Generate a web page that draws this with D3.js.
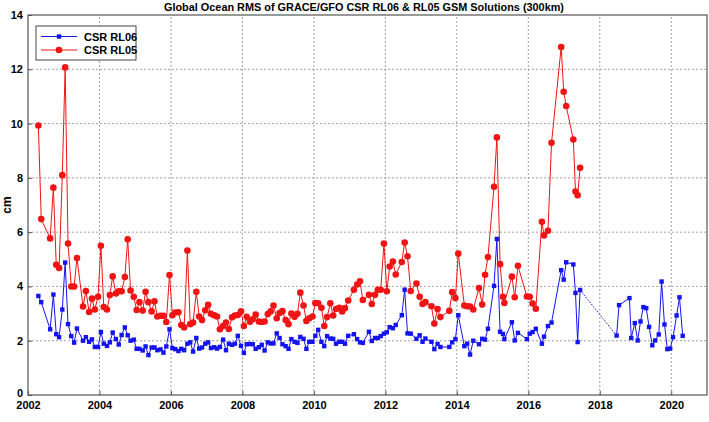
<!DOCTYPE html>
<html lang="en">
<head>
<meta charset="UTF-8">
<title>Global Ocean RMS of GRACE/GFO CSR RL06 & RL05</title>
<script src="https://d3js.org/d3.v7.min.js"></script>
<style>
    body { margin: 0; background: #fff; }
    svg text {
        font-family: "Liberation Sans Narrow", "Arial Narrow", "Liberation Sans", Arial, sans-serif;
        font-weight: bold;
        fill: #000;
    }
    .grid line { stroke: #8a8a8a; stroke-width: 0.8; stroke-dasharray: 2,2; }
</style>
</head>
<body>
<svg id="chart"></svg>
<script>
// GRACE era months (decimal year), shared by both releases
const timeGrace = [
    2002.29, 2002.37, 2002.62, 2002.71, 2002.79, 2002.87, 2002.96,
    2003.04, 2003.12, 2003.21, 2003.29, 2003.37, 2003.54, 2003.62, 2003.71, 2003.79, 2003.87, 2003.96,
    2004.04, 2004.12, 2004.21, 2004.29, 2004.37, 2004.46, 2004.54, 2004.62, 2004.71, 2004.79, 2004.87, 2004.96,
    2005.04, 2005.12, 2005.21, 2005.29, 2005.37, 2005.46, 2005.54, 2005.62, 2005.71, 2005.79, 2005.87, 2005.96,
    2006.04, 2006.12, 2006.21, 2006.29, 2006.37, 2006.46, 2006.54, 2006.62, 2006.71, 2006.79, 2006.87, 2006.96,
    2007.04, 2007.12, 2007.21, 2007.29, 2007.37, 2007.46, 2007.54, 2007.62, 2007.71, 2007.79, 2007.87, 2007.96,
    2008.04, 2008.12, 2008.21, 2008.29, 2008.37, 2008.46, 2008.54, 2008.62, 2008.71, 2008.79, 2008.87, 2008.96,
    2009.04, 2009.12, 2009.21, 2009.29, 2009.37, 2009.46, 2009.54, 2009.62, 2009.71, 2009.79, 2009.87, 2009.96,
    2010.04, 2010.12, 2010.21, 2010.29, 2010.37, 2010.46, 2010.54, 2010.62, 2010.71, 2010.79, 2010.87, 2010.96,
    2011.12, 2011.21, 2011.29, 2011.37, 2011.54, 2011.62, 2011.71, 2011.79, 2011.87, 2011.96,
    2012.04, 2012.12, 2012.21, 2012.29, 2012.46, 2012.54, 2012.62, 2012.71, 2012.87, 2012.96,
    2013.04, 2013.12, 2013.29, 2013.37, 2013.46, 2013.54, 2013.79, 2013.87, 2013.96,
    2014.04, 2014.21, 2014.29, 2014.37, 2014.46, 2014.62, 2014.71, 2014.79, 2014.87,
    2015.04, 2015.12, 2015.21, 2015.29, 2015.33, 2015.54, 2015.62, 2015.71, 2015.96,
    2016.04, 2016.12, 2016.21, 2016.38, 2016.44, 2016.55, 2016.65, 2016.92, 2016.99, 2017.06, 2017.26, 2017.32, 2017.38, 2017.45
];

const rl05Grace = [
    9.93, 6.48, 5.77, 7.64, 4.80, 4.68, 8.10,
    12.07, 5.58, 4.00, 4.00, 5.05, 3.26, 3.83, 3.06, 3.55, 3.15, 3.62,
    5.50, 3.24, 3.15, 3.68, 4.37, 3.74, 3.82, 3.82, 4.35, 5.74, 3.85, 3.62,
    3.13, 3.42, 3.11, 3.80, 3.42, 3.08, 3.45, 2.89, 2.92, 2.92, 2.69, 4.42,
    2.94, 3.04, 3.05, 2.58, 2.49, 5.32, 2.61, 2.67, 3.80, 2.89, 2.76, 3.12,
    3.32, 2.99, 2.94, 2.89, 2.42, 2.54, 2.67, 2.43, 2.86, 2.93, 2.95, 3.08,
    2.54, 2.88, 2.70, 2.79, 2.96, 2.71, 2.69, 2.71, 2.98, 3.08, 3.30, 2.83,
    3.02, 3.09, 2.76, 2.61, 3.00, 2.88, 2.99, 3.77, 3.30, 2.73, 2.83, 2.89,
    3.39, 3.38, 3.21, 2.54, 2.87, 3.38, 2.93, 3.17, 3.21, 3.08, 3.20, 3.48,
    3.88, 4.07, 4.19, 3.50, 3.69, 3.35, 3.69, 3.88, 3.88, 5.58,
    3.82, 4.73, 4.92, 4.44, 4.90, 5.62, 5.11, 3.83, 4.11, 3.62,
    3.35, 3.42, 3.27, 2.63, 3.17, 2.87, 3.10, 3.79, 3.57,
    5.21, 3.30, 3.27, 3.26, 3.15, 3.94, 3.33, 4.43, 5.08,
    7.67, 9.49, 4.82, 3.62, 3.39, 4.36, 3.60, 4.76, 3.63,
    3.62, 3.37, 3.18, 6.38, 5.88, 6.05, 9.29, 12.82, 11.17, 10.65, 9.41, 7.50, 7.36, 8.37
];

const rl06Grace = [
    3.65, 3.42, 2.42, 3.70, 2.24, 2.13, 3.15,
    4.88, 2.61, 2.17, 1.93, 2.45, 2.00, 2.13, 1.96, 2.05, 1.77, 1.77,
    2.32, 1.89, 1.81, 1.94, 2.30, 2.06, 1.86, 2.21, 2.49, 2.20, 2.00, 2.04,
    1.70, 1.70, 1.64, 1.79, 1.47, 1.75, 1.75, 1.65, 1.68, 1.56, 1.79, 2.42,
    1.73, 1.69, 1.62, 1.70, 1.65, 1.89, 1.94, 1.60, 2.10, 1.71, 1.75, 1.89,
    1.94, 1.73, 1.76, 1.71, 1.77, 2.04, 1.65, 1.89, 1.85, 1.89, 2.18, 1.81,
    1.55, 1.87, 1.88, 1.87, 1.70, 1.76, 1.85, 1.64, 1.94, 1.90, 1.90, 2.27,
    2.10, 1.87, 1.80, 1.70, 2.06, 1.96, 1.92, 2.14, 2.07, 1.70, 1.96, 1.96,
    2.18, 2.40, 1.96, 1.80, 2.17, 2.08, 2.07, 1.89, 1.96, 1.96, 1.89, 2.18,
    2.24, 2.06, 1.94, 1.92, 2.33, 1.99, 2.10, 2.10, 2.17, 2.26,
    2.31, 2.50, 2.46, 2.58, 2.94, 3.88, 2.27, 2.26, 2.07, 2.20,
    1.96, 2.08, 1.96, 1.69, 1.88, 1.77, 1.77, 1.94, 2.06,
    2.94, 1.80, 1.89, 1.49, 2.00, 1.87, 2.07, 2.04, 2.44,
    4.02, 5.75, 2.33, 2.25, 2.06, 2.68, 2.01, 2.29, 2.06,
    2.26, 2.32, 2.44, 1.89, 2.15, 2.54, 2.67, 4.60, 4.25, 4.89, 4.81, 3.76, 1.95, 3.87
];

// GRACE-FO era, RL06 only
const timeGfo = [
    2018.47, 2018.54, 2018.83, 2018.88, 2018.98, 2019.06, 2019.14, 2019.22, 2019.30, 2019.38, 2019.47,
    2019.55, 2019.65, 2019.73, 2019.81, 2019.89, 2019.97, 2020.05, 2020.15, 2020.23, 2020.32
];
const rl06Gfo = [
    2.19, 3.31, 3.57, 2.10, 2.65, 2.01, 2.71, 3.24, 3.20, 2.51, 1.83,
    2.01, 2.23, 4.18, 2.60, 1.69, 1.71, 2.13, 2.93, 3.60, 2.18
];

const xTicks = [2002, 2004, 2006, 2008, 2010, 2012, 2014, 2016, 2018, 2020];
const yTicks = [0, 2, 4, 6, 8, 10, 12, 14];

const width = 709, height = 422;
const margin = { top: 15, right: 2, bottom: 27, left: 28 };

const svg = d3.select('#chart')
    .attr('width', width)
    .attr('height', height);

const x = d3.scaleLinear().domain([2002, 2021]).range([margin.left, width - margin.right]);
const y = d3.scaleLinear().domain([0, 14]).range([height - margin.bottom, margin.top]);

// grid
const grid = svg.append('g').attr('class', 'grid');
grid.selectAll('.vg').data(xTicks.slice(1)).enter().append('line')
    .attr('x1', d => x(d)).attr('x2', d => x(d))
    .attr('y1', y(0)).attr('y2', y(14));
grid.selectAll('.hg').data(yTicks.slice(1, -1)).enter().append('line')
    .attr('x1', x(2002)).attr('x2', x(2021))
    .attr('y1', d => y(d)).attr('y2', d => y(d));

// axes
const xAxis = svg.append('g')
    .attr('transform', `translate(0,${y(0)})`)
    .call(d3.axisBottom(x).tickValues(xTicks).tickFormat(d3.format('d')).tickSize(-4).tickPadding(6));
const yAxis = svg.append('g')
    .attr('transform', `translate(${x(2002)},0)`)
    .call(d3.axisLeft(y).tickValues(yTicks).tickSize(-4).tickPadding(5));
[xAxis, yAxis].forEach(a => {
    a.select('.domain').remove();
    a.selectAll('line').attr('stroke', '#555');
    a.selectAll('text').style('font-size', '11px');
});
// lift the 0 label a little so it clears the year labels
yAxis.selectAll('.tick text').filter(d => d === 0).attr('dy', '0.1em');

// frame
svg.append('rect')
    .attr('x', x(2002)).attr('y', y(14))
    .attr('width', x(2021) - x(2002)).attr('height', y(0) - y(14))
    .attr('fill', 'none').attr('stroke', '#555').attr('stroke-width', 1.2);

const line = d3.line().x(d => x(d[0])).y(d => y(d[1]));
const blueGrace = timeGrace.map((t, i) => [t, rl06Grace[i]]);
const blueGfo = timeGfo.map((t, i) => [t, rl06Gfo[i]]);
const redGrace = timeGrace.map((t, i) => [t, rl05Grace[i]]);

const blue = '#1414f0', red = '#f01414';

// RL06
svg.append('path').datum(blueGrace).attr('d', line)
    .attr('fill', 'none').attr('stroke', blue).attr('stroke-width', 1);
svg.append('path').datum([blueGrace[blueGrace.length - 1], blueGfo[0]]).attr('d', line)
    .attr('fill', 'none').attr('stroke', blue).attr('stroke-width', 1).attr('stroke-dasharray', '1.5,1.5');
svg.append('path').datum(blueGfo).attr('d', line)
    .attr('fill', 'none').attr('stroke', blue).attr('stroke-width', 1);
svg.selectAll('.sq').data(blueGrace.concat(blueGfo)).enter().append('rect')
    .attr('x', d => x(d[0]) - 2.2).attr('y', d => y(d[1]) - 2.2)
    .attr('width', 4.4).attr('height', 4.4).attr('fill', blue);

// RL05
svg.append('path').datum(redGrace).attr('d', line)
    .attr('fill', 'none').attr('stroke', red).attr('stroke-width', 1);
svg.selectAll('.dot').data(redGrace).enter().append('circle')
    .attr('cx', d => x(d[0])).attr('cy', d => y(d[1]))
    .attr('r', 3.3).attr('fill', red);

// title and y label
svg.append('text')
    .attr('x', 364).attr('y', 11)
    .attr('text-anchor', 'middle').style('font-size', '11.5px')
    .attr('textLength', 400).attr('lengthAdjust', 'spacingAndGlyphs')
    .text('Global Ocean RMS of GRACE/GFO CSR RL06 & RL05 GSM Solutions (300km)');
svg.append('text')
    .attr('transform', `translate(11,${(y(0) + y(14)) / 2}) rotate(-90)`)
    .attr('text-anchor', 'middle').style('font-size', '12px')
    .text('cm');

// legend
const lg = svg.append('g');
lg.append('rect').attr('x', 36).attr('y', 26).attr('width', 100).attr('height', 34)
    .attr('fill', '#fff').attr('stroke', '#444').attr('stroke-width', 1);
const legendItems = [
    { name: 'CSR RL06', color: blue, shape: 'square' },
    { name: 'CSR RL05', color: red, shape: 'circle' }
];
legendItems.forEach((d, i) => {
    const ly = 36.5 + i * 13.5;
    lg.append('line').attr('x1', 41).attr('x2', 77).attr('y1', ly).attr('y2', ly)
        .attr('stroke', d.color).attr('stroke-width', 1);
    if (d.shape === 'square') {
        lg.append('rect').attr('x', 59 - 2.2).attr('y', ly - 2.2).attr('width', 4.4).attr('height', 4.4).attr('fill', d.color);
    } else {
        lg.append('circle').attr('cx', 59).attr('cy', ly).attr('r', 3.3).attr('fill', d.color);
    }
    lg.append('text').attr('x', 84).attr('y', ly + 4).style('font-size', '11px').text(d.name);
});
</script>
</body>
</html>
